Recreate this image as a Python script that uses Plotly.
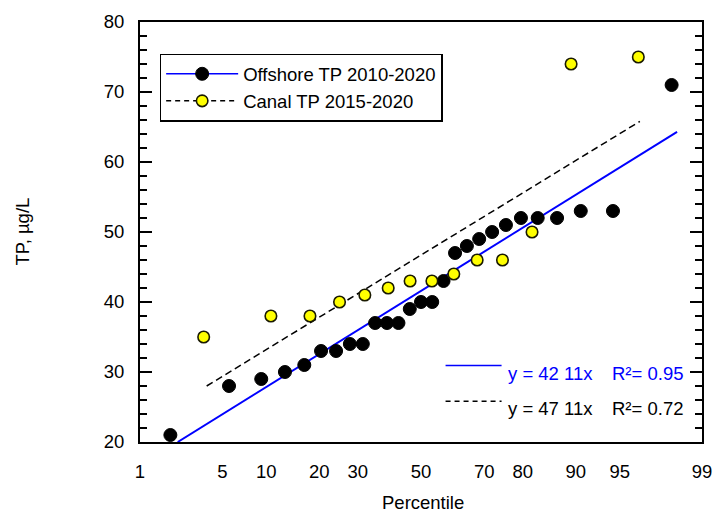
from statistics import NormalDist
import plotly.graph_objects as go

# ---------------- data ----------------
offshore_pct = [1.9, 5.6, 9.3, 13.0, 16.7, 20.4, 24.1, 27.8, 31.5, 35.2, 38.9, 42.6, 46.3, 50.0,
                53.7, 57.4, 61.1, 64.8, 68.5, 72.2, 75.9, 79.6, 83.3, 87.0, 90.7, 94.4, 98.1]
offshore_tp = [21, 28, 29, 30, 31, 33, 33, 34, 34, 37, 37, 37, 39, 40,
               40, 43, 47, 48, 49, 50, 51, 52, 52, 52, 53, 53, 71]

canal_pct = [3.6, 10.7, 17.9, 25.0, 32.1, 39.3, 46.4, 53.6, 60.7, 67.9, 75.0, 82.1, 89.3, 96.4]
canal_tp = [35, 38, 38, 40, 41, 42, 43, 43, 44, 46, 46, 50, 74, 75]

# regression lines (end points)
offshore_fit_pct = [2.2, 98.3]
offshore_fit_tp = [20.0, 64.3]
canal_fit_pct = [3.8, 96.5]
canal_fit_tp = [28.0, 65.8]

tick_pct = [1, 5, 10, 20, 30, 50, 70, 80, 90, 95, 99]
tick_text = [str(t) for t in tick_pct]

legend_names = ["Offshore TP 2010-2020", "Canal TP 2015-2020"]
eq_texts = ["y = 42 11x", "y = 47 11x"]
r2_texts = ["R²= 0.95", "R²= 0.72"]

# ---------------- probability scale ----------------
nd = NormalDist()


def z(p_list):
    return [nd.inv_cdf(p / 100.0) for p in p_list]


FONT = "Arial, 'Liberation Sans', sans-serif"
FS = 18.5
BLUE = "#0000FF"
YELLOW = "#FFFF00"

fig = go.Figure()

# regression lines
fig.add_trace(go.Scatter(x=z(offshore_fit_pct), y=offshore_fit_tp, mode="lines",
                         line=dict(color=BLUE, width=2), showlegend=False, hoverinfo="skip"))
fig.add_trace(go.Scatter(x=z(canal_fit_pct), y=canal_fit_tp, mode="lines",
                         line=dict(color="black", width=1.5, dash="7px,4px"),
                         showlegend=False, hoverinfo="skip"))

# data points
fig.add_trace(go.Scatter(x=z(offshore_pct), y=offshore_tp, mode="markers",
                         marker=dict(color="black", size=13, line=dict(color="black", width=1)),
                         showlegend=False, name=legend_names[0]))
fig.add_trace(go.Scatter(x=z(canal_pct), y=canal_tp, mode="markers",
                         marker=dict(color=YELLOW, size=11.5, line=dict(color="#1a1a00", width=1.6)),
                         showlegend=False, name=legend_names[1]))

# legend-only entries
fig.add_trace(go.Scatter(x=[None], y=[None], mode="lines+markers", name=legend_names[0],
                         line=dict(color=BLUE, width=1.5),
                         marker=dict(color="black", size=13, line=dict(color="black", width=1))))
fig.add_trace(go.Scatter(x=[None], y=[None], mode="lines+markers", name=legend_names[1],
                         line=dict(color="black", width=1.5, dash="5px,4px"),
                         marker=dict(color=YELLOW, size=11.5, line=dict(color="#1a1a00", width=1.6))))

# plot area in pixels: x 140..712, y 19..441.7
L, R, T, B = 140, 11, 19, 71
W, H = 723, 513
pw, ph = W - L - R, H - T - B


def px(xp):
    return (xp - L) / pw


def py(yp):
    return (H - B - yp) / ph


# equation legend: line samples + text
fig.add_shape(type="line", xref="paper", yref="paper", x0=px(451), x1=px(508), y0=py(365), y1=py(365),
              line=dict(color=BLUE, width=1.5))
fig.add_shape(type="line", xref="paper", yref="paper", x0=px(451), x1=px(508), y0=py(401), y1=py(401),
              line=dict(color="black", width=1.5, dash="5px,4px"))
eq_colors = [BLUE, "black"]
eq_y = [373, 408]
for t, r2, c, yy in zip(eq_texts, r2_texts, eq_colors, eq_y):
    fig.add_annotation(xref="paper", yref="paper", x=px(513), y=py(yy), text=t, showarrow=False,
                       xanchor="left", yanchor="middle", font=dict(family=FONT, size=FS, color=c))
    fig.add_annotation(xref="paper", yref="paper", x=px(618), y=py(yy), text=r2, showarrow=False,
                       xanchor="left", yanchor="middle", font=dict(family=FONT, size=FS, color=c))

# axis titles
fig.add_annotation(xref="paper", yref="paper", x=px(428), y=py(503), text="Percentile", showarrow=False,
                   xanchor="center", yanchor="middle", font=dict(family=FONT, size=FS, color="black"))
fig.add_annotation(xref="paper", yref="paper", x=px(20), y=py(230), text="TP, µg/L", showarrow=False,
                   textangle=-90, xanchor="center", yanchor="middle",
                   font=dict(family=FONT, size=FS, color="black"))

zmin, zmax = z([1, 99])
fig.update_layout(
    width=W, height=H,
    margin=dict(l=L, r=R, t=T, b=B, pad=0),
    paper_bgcolor="white", plot_bgcolor="white",
    font=dict(family=FONT, size=FS, color="black"),
    xaxis=dict(range=[zmin, zmax], tickvals=z(tick_pct), ticktext=tick_text, ticks="",
               showgrid=False, zeroline=False, showline=True, linecolor="black", linewidth=2,
               mirror=True, ticklabelstandoff=12, tickfont=dict(family=FONT, size=FS)),
    yaxis=dict(range=[20, 80], dtick=10, tick0=20, ticks="inside", ticklen=12, tickwidth=1.5,
               tickcolor="black", showgrid=False, zeroline=False, showline=True, linecolor="black",
               linewidth=2, mirror="ticks", ticklabelstandoff=10, tickfont=dict(family=FONT, size=FS),
               minor=dict(dtick=2, ticks="inside", ticklen=7, tickwidth=1.5, tickcolor="black",
                          showgrid=False)),
    legend=dict(x=px(160), y=py(51), xanchor="left", yanchor="top", bgcolor="white",
                bordercolor="black", borderwidth=1.5, itemwidth=72,
                font=dict(family=FONT, size=FS, color="black"), tracegroupgap=0),
    showlegend=True,
)

fig.write_html("out.html")
